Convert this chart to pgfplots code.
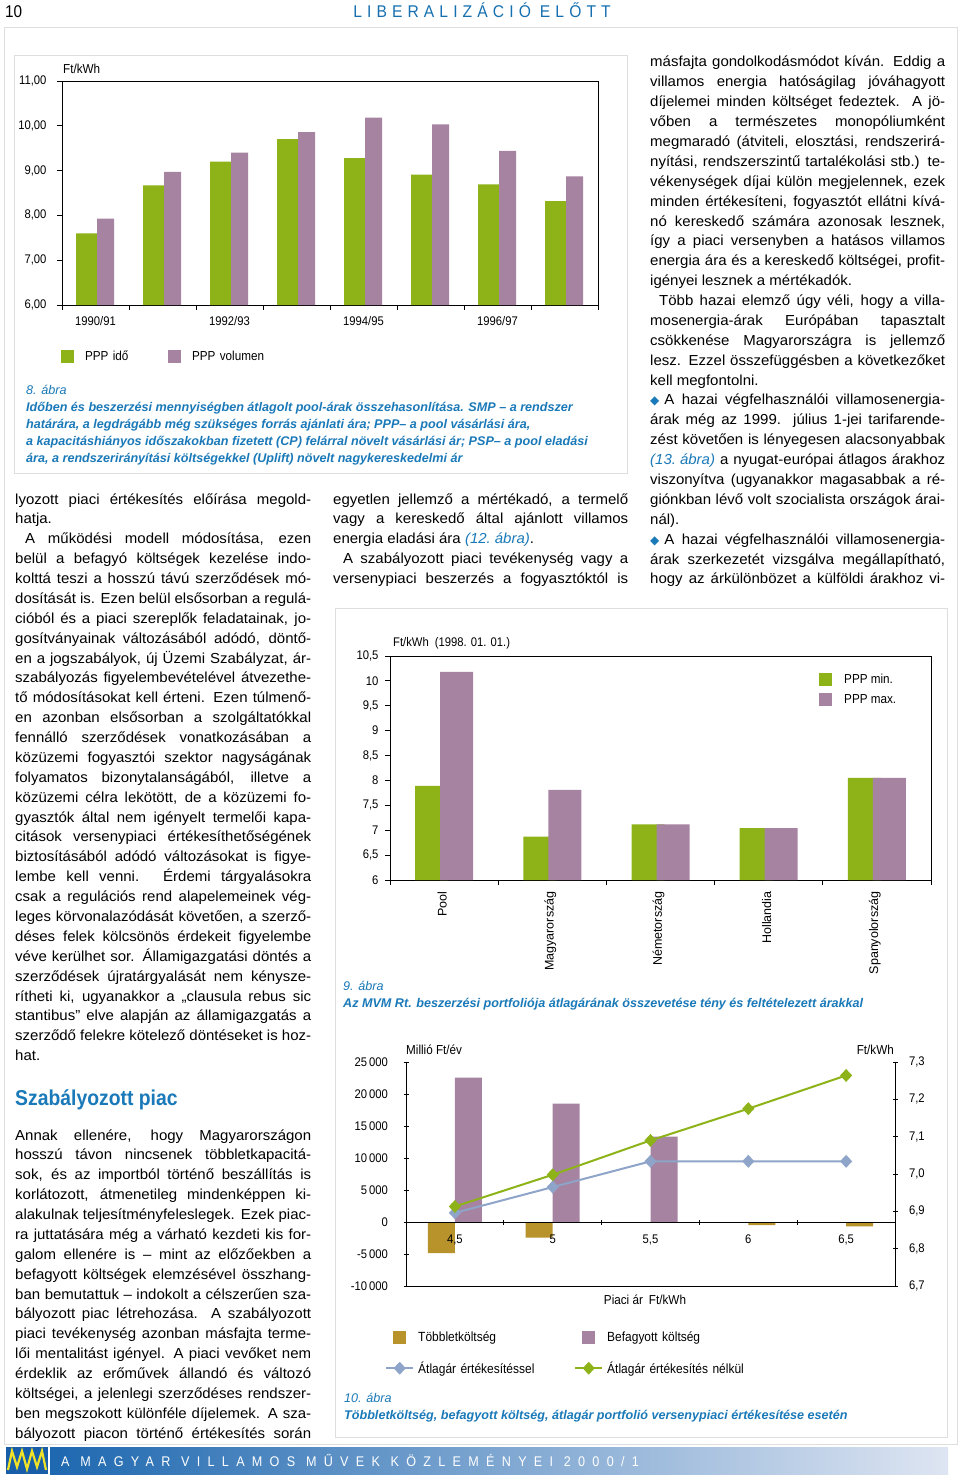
\documentclass[border=0pt]{standalone}
\usepackage{fontspec}
\setmainfont{Liberation Sans}
\newfontfamily\bodyfam{Liberation Sans}[FakeStretch=1.035]
\newfontfamily\cf{Liberation Sans}[FakeStretch=0.9]
\newfontfamily\djv{DejaVu Sans}
\newfontfamily\hdr{Liberation Sans}[FakeStretch=0.92,LetterSpace=30]
\newfontfamily\ftr{Liberation Sans}[FakeStretch=0.9,LetterSpace=52]
\usepackage{pgfplots}
\pgfplotsset{compat=1.18}
\definecolor{pgreen}{RGB}{141,179,24}
\definecolor{ppurple}{RGB}{166,131,161}
\definecolor{pgold}{RGB}{184,146,42}
\definecolor{lblue}{RGB}{142,164,200}
\definecolor{capblue}{RGB}{26,121,184}
\definecolor{hdrblue}{RGB}{22,112,176}
\definecolor{framegray}{RGB}{222,222,222}
\definecolor{fblue0}{RGB}{24,94,168}
\definecolor{fblue1}{RGB}{30,104,176}
\definecolor{fblue2}{RGB}{222,229,242}
\definecolor{logoy}{RGB}{240,226,40}
\newdimen\colw
\newcommand\J[1]{\hbox to \colw{#1}}
\newcommand\Lst[1]{\hbox to \colw{#1\hfil}}
\newcommand\body{\bodyfam\fontsize{14.5}{19.88}\selectfont}
\newcommand\chf{\cf\fontsize{12.5}{14}\selectfont}
\newcommand\chl{\cf\fontsize{13}{15}\selectfont}
\newcommand\chlx{\cf\fontsize{13.3}{15}\selectfont}
\newcommand\chfA{\fontsize{12.5}{14}\selectfont}
\newcommand\capf{\fontsize{12.6}{17}\selectfont}
\newcommand\ib[1]{\textcolor{capblue}{\itshape #1}}
\newcommand\bul{\textcolor{capblue}{\djv\fontsize{12}{12}\selectfont ◆}\kern5pt}
\pgfplotsset{
  myax/.style={scale only axis, axis line style={line width=0.9pt},
    every tick/.append style={black, line width=0.8pt}, major tick length=5pt,
    tick align=outside, tick label style={font=\chf}, legend cell align=left},
  sqA/.style={legend image code/.code={\fill[#1] (0pt,-6.5pt) rectangle (13pt,6.5pt);}},
  sqB/.style={legend image code/.code={\fill[#1] (7pt,-6.5pt) rectangle (20pt,6.5pt);}},
  lnB/.style={legend image code/.code={\draw[#1, line width=2pt, mark=diamond*, mark size=5pt, mark options={fill=#1, xscale=1.25}, mark repeat=2, mark phase=2] plot coordinates {(0pt,0pt) (13.5pt,0pt) (27pt,0pt)};}},
}
\begin{document}
\begin{tikzpicture}[x=1pt,y=1pt]
\path[use as bounding box] (0,0) rectangle (960,-1482);
\fill[white] (0,0) rectangle (960,-1482);
% frames
\draw[framegray, line width=1pt] (4,-28) rectangle (957,-1444);
\draw[framegray, line width=1pt] (14,-56) rectangle (627,-473);
\draw[framegray, line width=1pt] (335,-608) rectangle (947,-1437);
% header
\node[anchor=base west, inner sep=0pt] at (5,-18) {\cf\fontsize{17}{20}\selectfont 10};
\node[anchor=base, inner sep=0pt, text=hdrblue] at (482,-18) {\hdr\fontsize{17}{20}\selectfont LIBERALIZÁCIÓ\kern9pt ELŐTT};
% footer
\fill[fblue0] (6,-1447) rectangle (48,-1474);
\draw[logoy, line width=2.2pt, line join=miter] (8,-1470) -- (12,-1451) -- (17,-1467) -- (22,-1451) -- (27,-1469) -- (32,-1451) -- (37,-1467) -- (42,-1451) -- (46,-1470);
\shade[left color=fblue1, right color=fblue2] (50,-1447) rectangle (948,-1474);
\node[anchor=base west, inner sep=0pt, text=white] at (61,-1466) {\ftr\fontsize{14}{16}\selectfont A MAGYAR VILLAMOS MŰVEK KÖZLEMÉNYEI 2000/1};

% ---------------- right column text
\node[anchor=base west, inner sep=0pt] at (650,-67) {\body\vtop{\colw=295pt\baselineskip=19.88pt
\J{másfajta gondolkodásmódot kíván. Eddig a}
\J{villamos energia hatóságilag jóváhagyott}
\J{díjelemei minden költséget fedeztek. A jö-}
\J{vőben a természetes monopóliumként}
\J{megmaradó (átviteli, elosztási, rendszerirá-}
\J{nyítási, rendszerszintű tartalékolási stb.) te-}
\J{vékenységek díjai külön megjelennek, ezek}
\J{minden értékesíteni, fogyasztót ellátni kívá-}
\J{nó kereskedő számára azonosak lesznek,}
\J{így a piaci versenyben a hatásos villamos}
\J{energia ára és a kereskedő költségei, profit-}
\Lst{igényei lesznek a mértékadók.}
\J{\kern9pt Több hazai elemző úgy véli, hogy a villa-}
\J{mosenergia-árak Európában tapasztalt}
\J{csökkenése Magyarországra is jellemző}
\J{lesz. Ezzel összefüggésben a következőket}
\Lst{kell megfontolni.}
\J{\bul A hazai végfelhasználói villamosenergia-}
\J{árak még az 1999. július 1-jei tarifarende-}
\J{zést követően is lényegesen alacsonyabbak}
\J{\ib{(13.\kern4pt ábra)} a nyugat-európai átlagos árakhoz}
\J{viszonyítva (ugyanakkor magasabbak a ré-}
\J{giónkban lévő volt szocialista országok árai-}
\Lst{nál).}
\J{\bul A hazai végfelhasználói villamosenergia-}
\J{árak szerkezetét vizsgálva megállapítható,}
\J{hogy az árkülönbözet a külföldi árakhoz vi-}
}};

% ---------------- left column text
\node[anchor=base west, inner sep=0pt] at (15,-504) {\body\vtop{\colw=296pt\baselineskip=19.88pt
\J{lyozott piaci értékesítés előírása megold-}
\Lst{hatja.}
\J{\kern10pt A működési modell módosítása, ezen}
\J{belül a befagyó költségek kezelése indo-}
\J{kolttá teszi a hosszú távú szerződések mó-}
\J{dosítását is. Ezen belül elsősorban a regulá-}
\J{cióból és a piaci szereplők feladatainak, jo-}
\J{gosítványainak változásából adódó, döntő-}
\J{en a jogszabályok, új Üzemi Szabályzat, ár-}
\J{szabályozás figyelembevételével átvezethe-}
\J{tő módosításokat kell érteni. Ezen túlmenő-}
\J{en azonban elsősorban a szolgáltatókkal}
\J{fennálló szerződések vonatkozásában a}
\J{közüzemi fogyasztói szektor nagyságának}
\J{folyamatos bizonytalanságából, illetve a}
\J{közüzemi célra lekötött, de a közüzemi fo-}
\J{gyasztók által nem igényelt termelői kapa-}
\J{citások versenypiaci értékesíthetőségének}
\J{biztosításából adódó változásokat is figye-}
\J{lembe kell venni. Érdemi tárgyalásokra}
\J{csak a regulációs rend alapelemeinek vég-}
\J{leges körvonalazódását követően, a szerző-}
\J{déses felek kölcsönös érdekeit figyelembe}
\J{véve kerülhet sor. Államigazgatási döntés a}
\J{szerződések újratárgyalását nem kénysze-}
\J{rítheti ki, ugyanakkor a „clausula rebus sic}
\J{stantibus” elve alapján az államigazgatás a}
\J{szerződő felekre kötelező döntéseket is hoz-}
\Lst{hat.}
}};
\node[anchor=base west, inner sep=0pt, text=capblue] at (15,-1105) {\cf\bfseries\fontsize{21.5}{24}\selectfont Szabályozott piac};
\node[anchor=base west, inner sep=0pt] at (15,-1140) {\body\vtop{\colw=296pt\baselineskip=19.88pt
\J{Annak ellenére, hogy Magyarországon}
\J{hosszú távon nincsenek többletkapacitá-}
\J{sok, és az importból történő beszállítás is}
\J{korlátozott, átmenetileg mindenképpen ki-}
\J{alakulnak teljesítményfeleslegek. Ezek piac-}
\J{ra juttatására még a várható kezdeti kis for-}
\J{galom ellenére is – mint az előzőekben a}
\J{befagyott költségek elemzésével összhang-}
\J{ban bemutattuk – indokolt a célszerűen sza-}
\J{bályozott piac létrehozása. A szabályozott}
\J{piaci tevékenység azonban másfajta terme-}
\J{lői mentalitást igényel. A piaci vevőket nem}
\J{érdeklik az erőművek állandó és változó}
\J{költségei, a jelenlegi szerződéses rendszer-}
\J{ben megszokott különféle díjelemek. A sza-}
\J{bályozott piacon történő értékesítés során}
}};
% ---------------- middle column text
\node[anchor=base west, inner sep=0pt] at (333,-504) {\body\vtop{\colw=295pt\baselineskip=19.88pt
\J{egyetlen jellemző a mértékadó, a termelő}
\J{vagy a kereskedő által ajánlott villamos}
\Lst{energia eladási ára \ib{(12.\kern4pt ábra)}.}
\J{\kern10pt A szabályozott piaci tevékenység vagy a}
\J{versenypiaci beszerzés a fogyasztóktól is}
}};

% ---------------- captions
\node[anchor=base west, inner sep=0pt, text=capblue] at (26,-394) {\capf\vtop{\baselineskip=17pt
\hbox{\itshape 8. ábra}
\hbox{\bfseries\itshape Időben és beszerzési mennyiségben átlagolt pool-árak összehasonlítása. SMP – a rendszer}
\hbox{\bfseries\itshape határára, a legdrágább még szükséges forrás ajánlati ára; PPP– a pool vásárlási ára,}
\hbox{\bfseries\itshape a kapacitáshiányos időszakokban fizetett (CP) felárral növelt vásárlási ár; PSP– a pool eladási}
\hbox{\bfseries\itshape ára, a rendszerirányítási költségekkel (Uplift) növelt nagykereskedelmi ár}}};
\node[anchor=base west, inner sep=0pt, text=capblue] at (343,-990) {\capf\vtop{\baselineskip=17pt
\hbox{\itshape 9. ábra}
\hbox{\bfseries\itshape Az MVM Rt. beszerzési portfoliója átlagárának összevetése tény és feltételezett árakkal}}};
\node[anchor=base west, inner sep=0pt, text=capblue] at (344,-1402) {\capf\vtop{\baselineskip=17pt
\hbox{\itshape 10. ábra}
\hbox{\bfseries\itshape Többletköltség, befagyott költség, átlagár portfolió versenypiaci értékesítése esetén}}};

% ---------------- chart 8
\node[anchor=west, inner sep=0pt] at (63,-69) {\chl Ft/kWh};
\begin{axis}[myax,
  at={(62pt,-305pt)}, anchor=south west, width=536pt, height=224pt,
  xmin=0.5, xmax=8.5, ymin=6, ymax=11, tick pos=left,
  ytick={6,7,8,9,10,11}, yticklabels={{6,00},{7,00},{8,00},{9,00},{10,00},{11,00}},
  yticklabel style={xshift=-7pt},
  xtick={0.5,1.5,...,8.5}, xticklabels={},
  extra x ticks={1,3,5,7}, extra x tick labels={1990/91,1992/93,1994/95,1996/97},
  extra x tick style={major tick length=0pt, tick label style={yshift=-8pt}},
  legend style={draw=none, fill=none, inner sep=0pt, at={(-0.002,-0.228)}, anchor=west,
    /tikz/every odd column/.append style={column sep=11pt},
    nodes={inner sep=0pt, anchor=west, text width=83pt, font=\chl}},
  legend columns=2,
]
\addplot[ybar, bar width=21pt, bar shift=-9pt, fill=pgreen, draw=none, sqA=pgreen]
  coordinates {(1,7.60) (2,8.67) (3,9.20) (4,9.70) (5,9.28) (6,8.91) (7,8.69) (8,8.32)};
\addlegendentry{PPP idő}
\addplot[ybar, bar width=17pt, bar shift=10pt, fill=ppurple, draw=none, sqA=ppurple]
  coordinates {(1,7.93) (2,8.97) (3,9.40) (4,9.86) (5,10.18) (6,10.03) (7,9.44) (8,8.87)};
\addlegendentry{PPP volumen}
\end{axis}

% ---------------- chart 9
\node[anchor=west, inner sep=0pt] at (393,-643) {\chf Ft/kWh\kern6pt(1998. 01. 01.)};
\begin{axis}[myax,
  at={(390pt,-880pt)}, anchor=south west, width=541pt, height=224pt,
  xmin=0.5, xmax=5.5, ymin=6, ymax=10.5, tick pos=left,
  ytick={6,6.5,7,7.5,8,8.5,9,9.5,10,10.5},
  yticklabels={6,{6,5},7,{7,5},8,{8,5},9,{9,5},10,{10,5}},
  yticklabel style={xshift=-3pt},
  xtick={0.5,1.5,...,5.5}, xticklabels={},
  extra x ticks={1,2,3,4,5}, extra x tick labels={Pool,Magyarország,Németország,Hollandia,Spanyolország},
  extra x tick style={major tick length=0pt},
  xticklabel style={yshift=-8pt, xshift=-2pt, rotate=90, anchor=east, font=\chfA},
  legend style={draw=none, fill=none, inner sep=0pt, at={(0.793,0.9397)}, anchor=north west,
    /tikz/every odd column/.append style={column sep=12pt},
    nodes={inner sep=0pt, anchor=west, minimum height=20pt, font=\chl}},
]
\addplot[ybar, bar width=33pt, bar shift=-12.5pt, fill=pgreen, draw=none, sqA=pgreen]
  coordinates {(1,7.89) (2,6.87) (3,7.12) (4,7.04) (5,8.05)};
\addlegendentry{PPP min.}
\addplot[ybar, bar width=33pt, bar shift=12.5pt, fill=ppurple, draw=none, sqA=ppurple]
  coordinates {(1,10.18) (2,7.81) (3,7.12) (4,7.04) (5,8.05)};
\addlegendentry{PPP max.}
\end{axis}

% ---------------- chart 10
\node[anchor=west, inner sep=0pt] at (406,-1050) {\chl Millió Ft/év};
\node[anchor=east, inner sep=0pt] at (894,-1050) {\chl Ft/kWh};
\node[inner sep=0pt] at (645,-1300) {\chl Piaci ár\kern6pt Ft/kWh};
\begin{axis}[myax,
  at={(406pt,-1286pt)}, anchor=south west, width=489pt, height=224pt,
  xmin=0.5, xmax=5.5, ymin=-10000, ymax=25000, clip=false, axis on top,
  axis x line=middle, axis y line=left, axis line style={-},
  hide obscured x ticks=false, hide obscured y ticks=false,
  scaled y ticks=false,
  ytick={-10000,-5000,0,5000,10000,15000,20000,25000},
  yticklabels={{-10\,000},{-5\,000},0,{5\,000},{10\,000},{15\,000},{20\,000},{25\,000}},
  yticklabel style={xshift=-12pt},
  xtick={1.5,2.5,3.5,4.5}, xticklabels={},
  extra x ticks={1,2,3,4,5}, extra x tick labels={{4,5},5,{5,5},6,{6,5}},
  extra x tick style={major tick length=0pt, tick label style={yshift=-9pt}},
  legend style={draw=none, fill=none, inner sep=0pt, at={(-0.0429,-0.1585)}, anchor=north west,
    /tikz/every odd column/.append style={column sep=4pt},
    nodes={inner sep=0pt, anchor=west, text width=156pt, minimum height=31pt, font=\chlx}},
  legend columns=2,
]
\draw[line width=0.9pt] (axis cs:0.5,-10000) -- (axis cs:5.5,-10000);
\addplot[ybar, bar width=27pt, bar shift=-13.5pt, fill=pgold, draw=none, sqB=pgold]
  coordinates {(1,-4850) (2,-2450)};
\addlegendentry{Többletköltség}
\addplot[ybar, bar width=27pt, bar shift=13.5pt, fill=ppurple, draw=none, sqB=ppurple]
  coordinates {(1,22550) (2,18490) (3,13330)};
\addlegendentry{Befagyott költség}
\addplot[ybar, bar width=27pt, bar shift=13.5pt, fill=pgold, draw=none, forget plot]
  coordinates {(4,-470) (5,-680)};
\addlegendimage{lnB=lblue}
\addlegendentry{Átlagár értékesítéssel}
\addlegendimage{lnB=pgreen}
\addlegendentry{Átlagár értékesítés nélkül}
\end{axis}
\begin{axis}[myax,
  at={(406pt,-1286pt)}, anchor=south west, width=489pt, height=224pt,
  xmin=0.5, xmax=5.5, ymin=6.7, ymax=7.3, clip=false,
  axis y line=right, axis x line=none, axis line style={-},
  ytick={6.7,6.8,6.9,7.0,7.1,7.2,7.3},
  yticklabels={{6,7},{6,8},{6,9},{7,0},{7,1},{7,2},{7,3}},
  yticklabel style={xshift=8pt},
]
\addplot[lblue, line width=2pt, mark=diamond*, mark size=5pt, mark options={fill=lblue, xscale=1.25}]
  coordinates {(1,6.896) (2,6.965) (3,7.034) (4,7.034) (5,7.034)};
\addplot[pgreen, line width=2pt, mark=diamond*, mark size=5pt, mark options={fill=pgreen, xscale=1.25}]
  coordinates {(1,6.913) (2,6.998) (3,7.090) (4,7.175) (5,7.264)};
\end{axis}
\end{tikzpicture}
\end{document}
